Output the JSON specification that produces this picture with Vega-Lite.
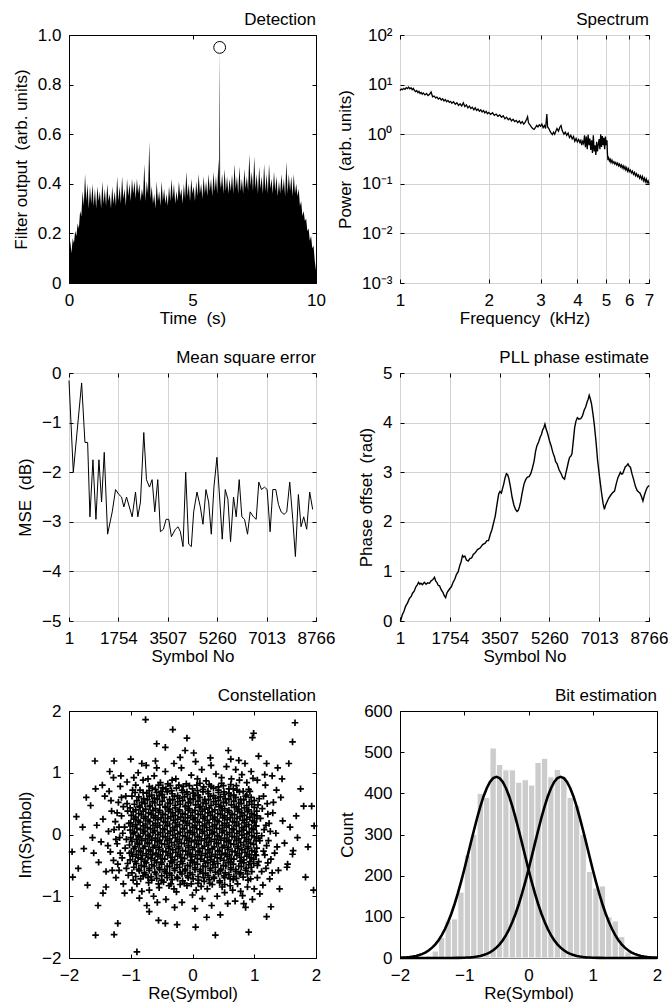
{
"$schema": "https://vega.github.io/schema/vega-lite/v6.json",
"background": "white",
"padding": {"left": 11, "top": 10, "right": 0, "bottom": 0},
"config": {
  "font": "Liberation Sans",
  "view": {"stroke": "black", "strokeWidth": 1},
  "axis": {"domain": false, "grid": false, "gridColor": "#d3d3d3", "gridWidth": 1, "gridOpacity": 1, "ticks": true, "tickColor": "black", "tickSize": -4, "tickWidth": 1, "labelFont": "Liberation Sans", "labelFontSize": 17, "labelColor": "black", "labelFlush": false, "labelOverlap": false, "titleFont": "Liberation Sans", "titleFontSize": 17, "titleFontWeight": "normal", "titleColor": "black"},
  "axisX": {"labelPadding": 13, "titleY": 27, "titleBaseline": "top"},
  "axisY": {"labelPadding": 12, "titlePadding": 7},
  "title": {"anchor": "end", "frame": "group", "fontSize": 17, "fontWeight": "normal", "font": "Liberation Sans", "color": "black", "offset": -3, "baseline": "alphabetic"}
},
"datasets": {
"det": [
{"t":0.00,"v":0.10},{"t":0.05,"v":0.17},{"t":0.10,"v":0.12},{"t":0.15,"v":0.18},{"t":0.20,"v":0.16},{"t":0.25,"v":0.21},{"t":0.30,"v":0.19},{"t":0.35,"v":0.24},{"t":0.40,"v":0.22},{"t":0.45,"v":0.29},{"t":0.50,"v":0.27},{"t":0.55,"v":0.37},{"t":0.60,"v":0.31},{"t":0.65,"v":0.44},{"t":0.70,"v":0.33},{"t":0.75,"v":0.40},{"t":0.80,"v":0.30},{"t":0.85,"v":0.39},{"t":0.90,"v":0.32},{"t":0.95,"v":0.40},
{"t":1.00,"v":0.31},{"t":1.05,"v":0.38},{"t":1.10,"v":0.30},{"t":1.15,"v":0.39},{"t":1.20,"v":0.33},{"t":1.25,"v":0.37},{"t":1.30,"v":0.30},{"t":1.35,"v":0.41},{"t":1.40,"v":0.32},{"t":1.45,"v":0.38},{"t":1.50,"v":0.31},{"t":1.55,"v":0.40},{"t":1.60,"v":0.33},{"t":1.65,"v":0.36},{"t":1.70,"v":0.30},{"t":1.75,"v":0.39},{"t":1.80,"v":0.32},{"t":1.85,"v":0.37},{"t":1.90,"v":0.31},{"t":1.95,"v":0.43},
{"t":2.00,"v":0.33},{"t":2.05,"v":0.39},{"t":2.10,"v":0.32},{"t":2.15,"v":0.43},{"t":2.20,"v":0.34},{"t":2.25,"v":0.38},{"t":2.30,"v":0.31},{"t":2.35,"v":0.42},{"t":2.40,"v":0.35},{"t":2.45,"v":0.40},{"t":2.50,"v":0.33},{"t":2.55,"v":0.42},{"t":2.60,"v":0.36},{"t":2.65,"v":0.41},{"t":2.70,"v":0.34},{"t":2.75,"v":0.42},{"t":2.80,"v":0.36},{"t":2.85,"v":0.40},{"t":2.90,"v":0.33},{"t":2.95,"v":0.38},
{"t":3.00,"v":0.35},{"t":3.05,"v":0.48},{"t":3.10,"v":0.33},{"t":3.15,"v":0.41},{"t":3.20,"v":0.36},{"t":3.25,"v":0.57},{"t":3.30,"v":0.34},{"t":3.35,"v":0.39},{"t":3.40,"v":0.32},{"t":3.45,"v":0.36},{"t":3.50,"v":0.30},{"t":3.55,"v":0.41},{"t":3.60,"v":0.33},{"t":3.65,"v":0.37},{"t":3.70,"v":0.31},{"t":3.75,"v":0.41},{"t":3.80,"v":0.33},{"t":3.85,"v":0.38},{"t":3.90,"v":0.32},{"t":3.95,"v":0.36},
{"t":4.00,"v":0.31},{"t":4.05,"v":0.39},{"t":4.10,"v":0.33},{"t":4.15,"v":0.42},{"t":4.20,"v":0.34},{"t":4.25,"v":0.40},{"t":4.30,"v":0.32},{"t":4.35,"v":0.37},{"t":4.40,"v":0.33},{"t":4.45,"v":0.41},{"t":4.50,"v":0.35},{"t":4.55,"v":0.38},{"t":4.60,"v":0.32},{"t":4.65,"v":0.40},{"t":4.70,"v":0.34},{"t":4.75,"v":0.45},{"t":4.80,"v":0.35},{"t":4.85,"v":0.40},{"t":4.90,"v":0.33},{"t":4.95,"v":0.42},
{"t":5.00,"v":0.36},{"t":5.05,"v":0.39},{"t":5.10,"v":0.33},{"t":5.15,"v":0.41},{"t":5.20,"v":0.35},{"t":5.25,"v":0.44},{"t":5.30,"v":0.36},{"t":5.35,"v":0.40},{"t":5.40,"v":0.34},{"t":5.45,"v":0.43},{"t":5.50,"v":0.36},{"t":5.55,"v":0.41},{"t":5.60,"v":0.35},{"t":5.65,"v":0.44},{"t":5.70,"v":0.37},{"t":5.75,"v":0.42},{"t":5.80,"v":0.35},{"t":5.85,"v":0.45},{"t":5.90,"v":0.37},{"t":5.95,"v":0.43},
{"t":6.00,"v":0.36},{"t":6.05,"v":0.50},{"t":6.08,"v":0.40},{"t":6.10,"v":0.95},{"t":6.12,"v":0.41},{"t":6.15,"v":0.38},{"t":6.20,"v":0.44},{"t":6.25,"v":0.36},{"t":6.30,"v":0.46},{"t":6.35,"v":0.37},{"t":6.40,"v":0.43},{"t":6.45,"v":0.36},{"t":6.50,"v":0.42},{"t":6.55,"v":0.37},{"t":6.60,"v":0.44},{"t":6.65,"v":0.36},{"t":6.70,"v":0.48},{"t":6.75,"v":0.38},{"t":6.80,"v":0.43},{"t":6.85,"v":0.36},{"t":6.90,"v":0.47},{"t":6.95,"v":0.37},
{"t":7.00,"v":0.42},{"t":7.05,"v":0.36},{"t":7.10,"v":0.46},{"t":7.15,"v":0.38},{"t":7.20,"v":0.43},{"t":7.25,"v":0.37},{"t":7.30,"v":0.52},{"t":7.35,"v":0.39},{"t":7.40,"v":0.45},{"t":7.45,"v":0.37},{"t":7.50,"v":0.51},{"t":7.55,"v":0.38},{"t":7.60,"v":0.44},{"t":7.65,"v":0.36},{"t":7.70,"v":0.47},{"t":7.75,"v":0.38},{"t":7.80,"v":0.43},{"t":7.85,"v":0.36},{"t":7.90,"v":0.48},{"t":7.95,"v":0.37},
{"t":8.00,"v":0.44},{"t":8.05,"v":0.36},{"t":8.10,"v":0.48},{"t":8.15,"v":0.38},{"t":8.20,"v":0.42},{"t":8.25,"v":0.36},{"t":8.30,"v":0.45},{"t":8.35,"v":0.37},{"t":8.40,"v":0.43},{"t":8.45,"v":0.35},{"t":8.50,"v":0.41},{"t":8.55,"v":0.36},{"t":8.60,"v":0.44},{"t":8.65,"v":0.37},{"t":8.70,"v":0.42},{"t":8.75,"v":0.35},{"t":8.80,"v":0.49},{"t":8.85,"v":0.36},{"t":8.90,"v":0.44},{"t":8.95,"v":0.37},
{"t":9.00,"v":0.43},{"t":9.05,"v":0.35},{"t":9.10,"v":0.44},{"t":9.15,"v":0.36},{"t":9.20,"v":0.40},{"t":9.25,"v":0.35},{"t":9.30,"v":0.38},{"t":9.35,"v":0.31},{"t":9.40,"v":0.33},{"t":9.45,"v":0.27},{"t":9.50,"v":0.29},{"t":9.55,"v":0.25},{"t":9.60,"v":0.26},{"t":9.65,"v":0.21},{"t":9.70,"v":0.22},{"t":9.75,"v":0.17},{"t":9.80,"v":0.19},{"t":9.85,"v":0.14},{"t":9.90,"v":0.15},{"t":9.95,"v":0.09},{"t":10.00,"v":0.05}
],
"spec": [
{"f":1.000,"p":7.6},{"f":1.010,"p":8.1},{"f":1.020,"p":7.9},{"f":1.030,"p":8.4},{"f":1.040,"p":8.0},{"f":1.050,"p":8.7},{"f":1.060,"p":8.3},{"f":1.070,"p":8.9},{"f":1.080,"p":8.2},{"f":1.090,"p":8.6},{"f":1.100,"p":7.9},{"f":1.110,"p":8.4},{"f":1.120,"p":7.6},{"f":1.130,"p":7.2},{"f":1.140,"p":7.6},{"f":1.150,"p":6.9},{"f":1.160,"p":7.3},{"f":1.170,"p":6.6},{"f":1.180,"p":6.9},{"f":1.190,"p":6.4},{"f":1.200,"p":6.8},{"f":1.215,"p":6.2},{"f":1.230,"p":6.6},{"f":1.245,"p":6.0},{"f":1.260,"p":6.4},{"f":1.275,"p":7.1},{"f":1.290,"p":5.7},{"f":1.305,"p":5.9},{"f":1.320,"p":5.4},{"f":1.335,"p":5.6},{"f":1.350,"p":5.1},{"f":1.365,"p":5.4},{"f":1.380,"p":4.9},{"f":1.395,"p":5.2},{"f":1.410,"p":4.7},{"f":1.425,"p":5.0},{"f":1.440,"p":4.5},{"f":1.455,"p":4.8},{"f":1.470,"p":4.4},{"f":1.485,"p":4.6},{"f":1.500,"p":4.2},{"f":1.520,"p":4.5},{"f":1.540,"p":4.0},{"f":1.560,"p":4.3},{"f":1.580,"p":3.8},{"f":1.600,"p":4.1},{"f":1.620,"p":3.7},{"f":1.640,"p":4.3},{"f":1.660,"p":3.6},{"f":1.680,"p":3.9},{"f":1.700,"p":3.4},{"f":1.720,"p":3.7},{"f":1.740,"p":3.3},{"f":1.760,"p":3.5},{"f":1.780,"p":3.1},{"f":1.800,"p":3.4},{"f":1.820,"p":3.0},{"f":1.840,"p":3.2},{"f":1.860,"p":2.9},{"f":1.880,"p":3.1},{"f":1.900,"p":2.8},{"f":1.920,"p":3.0},{"f":1.940,"p":2.7},{"f":1.960,"p":2.9},{"f":1.980,"p":2.6},{"f":2.000,"p":2.75},{"f":2.030,"p":2.5},{"f":2.060,"p":2.7},{"f":2.090,"p":2.4},{"f":2.120,"p":2.55},{"f":2.150,"p":2.3},{"f":2.180,"p":2.45},{"f":2.210,"p":2.2},{"f":2.240,"p":2.35},{"f":2.270,"p":2.05},{"f":2.300,"p":2.2},{"f":2.330,"p":1.95},{"f":2.360,"p":2.1},{"f":2.390,"p":1.85},{"f":2.420,"p":2.0},{"f":2.450,"p":1.8},{"f":2.480,"p":1.9},{"f":2.510,"p":1.7},{"f":2.540,"p":1.85},{"f":2.570,"p":1.65},{"f":2.600,"p":1.8},{"f":2.630,"p":1.6},{"f":2.660,"p":1.75},{"f":2.690,"p":2.0},{"f":2.710,"p":2.25},{"f":2.730,"p":1.7},{"f":2.760,"p":1.55},{"f":2.790,"p":1.4},{"f":2.820,"p":1.3},{"f":2.850,"p":1.25},{"f":2.880,"p":1.35},{"f":2.910,"p":1.5},{"f":2.940,"p":1.4},{"f":2.970,"p":1.55},{"f":3.000,"p":1.45},{"f":3.030,"p":1.6},{"f":3.060,"p":1.35},{"f":3.090,"p":1.5},{"f":3.120,"p":1.3},{"f":3.150,"p":2.55},{"f":3.170,"p":1.4},{"f":3.200,"p":1.3},{"f":3.230,"p":1.15},{"f":3.260,"p":1.05},{"f":3.290,"p":0.98},{"f":3.320,"p":1.1},{"f":3.350,"p":1.0},{"f":3.380,"p":1.15},{"f":3.410,"p":1.3},{"f":3.450,"p":1.15},{"f":3.490,"p":1.4},{"f":3.520,"p":1.5},{"f":3.550,"p":1.2},{"f":3.600,"p":1.0},{"f":3.640,"p":1.1},{"f":3.680,"p":0.95},{"f":3.720,"p":1.05},{"f":3.760,"p":0.85},{"f":3.800,"p":0.95},{"f":3.840,"p":0.8},{"f":3.880,"p":0.9},{"f":3.920,"p":0.72},{"f":3.960,"p":0.82},{"f":4.000,"p":0.7},{"f":4.040,"p":0.78},{"f":4.080,"p":0.68},{"f":4.110,"p":0.75},{"f":4.140,"p":0.6},{"f":4.170,"p":0.72},{"f":4.200,"p":0.65},{"f":4.230,"p":0.95},{"f":4.260,"p":0.55},{"f":4.290,"p":0.9},{"f":4.320,"p":0.5},{"f":4.350,"p":0.98},{"f":4.380,"p":0.6},{"f":4.410,"p":0.82},{"f":4.440,"p":0.48},{"f":4.470,"p":0.75},{"f":4.500,"p":0.42},{"f":4.530,"p":0.95},{"f":4.560,"p":0.45},{"f":4.590,"p":0.6},{"f":4.620,"p":0.38},{"f":4.650,"p":0.7},{"f":4.680,"p":0.45},{"f":4.710,"p":0.62},{"f":4.740,"p":0.8},{"f":4.770,"p":0.5},{"f":4.800,"p":1.0},{"f":4.830,"p":0.55},{"f":4.860,"p":0.92},{"f":4.890,"p":0.6},{"f":4.920,"p":0.85},{"f":4.950,"p":0.5},{"f":4.980,"p":0.9},{"f":5.010,"p":0.6},{"f":5.040,"p":0.75},{"f":5.060,"p":0.4},{"f":5.080,"p":0.3},{"f":5.110,"p":0.33},{"f":5.140,"p":0.29},{"f":5.170,"p":0.31},{"f":5.200,"p":0.27},{"f":5.240,"p":0.3},{"f":5.280,"p":0.26},{"f":5.320,"p":0.28},{"f":5.360,"p":0.25},{"f":5.400,"p":0.27},{"f":5.440,"p":0.24},{"f":5.480,"p":0.26},{"f":5.520,"p":0.23},{"f":5.560,"p":0.25},{"f":5.600,"p":0.22},{"f":5.640,"p":0.24},{"f":5.680,"p":0.21},{"f":5.720,"p":0.23},{"f":5.760,"p":0.2},{"f":5.800,"p":0.22},{"f":5.840,"p":0.19},{"f":5.880,"p":0.21},{"f":5.920,"p":0.18},{"f":5.960,"p":0.2},{"f":6.000,"p":0.175},{"f":6.050,"p":0.19},{"f":6.100,"p":0.165},{"f":6.150,"p":0.18},{"f":6.200,"p":0.155},{"f":6.250,"p":0.17},{"f":6.300,"p":0.145},{"f":6.350,"p":0.16},{"f":6.400,"p":0.14},{"f":6.450,"p":0.15},{"f":6.500,"p":0.13},{"f":6.550,"p":0.145},{"f":6.600,"p":0.125},{"f":6.650,"p":0.14},{"f":6.700,"p":0.115},{"f":6.750,"p":0.13},{"f":6.800,"p":0.11},{"f":6.850,"p":0.125},{"f":6.900,"p":0.105},{"f":6.950,"p":0.115},{"f":7.000,"p":0.1}
],
"mse": [
{"s":1,"m":-0.15},{"s":154,"m":-2.0},{"s":449,"m":-0.2},{"s":567,"m":-1.4},{"s":662,"m":-1.4},{"s":744,"m":-2.9},{"s":850,"m":-1.75},{"s":957,"m":-2.95},{"s":1063,"m":-1.75},{"s":1157,"m":-2.6},{"s":1252,"m":-1.6},{"s":1370,"m":-3.25},{"s":1535,"m":-2.8},{"s":1653,"m":-2.35},{"s":1771,"m":-2.45},{"s":1865,"m":-2.5},{"s":1948,"m":-2.7},{"s":2042,"m":-2.5},{"s":2243,"m":-2.9},{"s":2361,"m":-2.4},{"s":2443,"m":-2.9},{"s":2537,"m":-2.6},{"s":2655,"m":-1.2},{"s":2750,"m":-2.15},{"s":2856,"m":-2.3},{"s":2950,"m":-2.15},{"s":3045,"m":-2.8},{"s":3151,"m":-2.15},{"s":3245,"m":-3.2},{"s":3351,"m":-3.15},{"s":3446,"m":-2.95},{"s":3540,"m":-2.95},{"s":3635,"m":-3.3},{"s":3776,"m":-3.15},{"s":3870,"m":-3.1},{"s":3953,"m":-3.2},{"s":4047,"m":-3.5},{"s":4142,"m":-2.0},{"s":4248,"m":-3.45},{"s":4342,"m":-3.5},{"s":4425,"m":-2.8},{"s":4543,"m":-2.4},{"s":4661,"m":-2.7},{"s":4755,"m":-3.05},{"s":4861,"m":-2.35},{"s":4956,"m":-2.6},{"s":5050,"m":-3.25},{"s":5144,"m":-2.3},{"s":5251,"m":-1.7},{"s":5333,"m":-2.4},{"s":5439,"m":-3.35},{"s":5546,"m":-2.35},{"s":5640,"m":-2.55},{"s":5734,"m":-3.4},{"s":5840,"m":-2.5},{"s":5935,"m":-2.9},{"s":6041,"m":-2.15},{"s":6135,"m":-2.9},{"s":6230,"m":-2.95},{"s":6336,"m":-3.25},{"s":6430,"m":-2.8},{"s":6548,"m":-2.9},{"s":6643,"m":-2.95},{"s":6737,"m":-2.2},{"s":6832,"m":-2.35},{"s":6938,"m":-2.3},{"s":7032,"m":-2.35},{"s":7138,"m":-3.2},{"s":7233,"m":-2.35},{"s":7339,"m":-2.35},{"s":7433,"m":-2.65},{"s":7528,"m":-2.8},{"s":7634,"m":-2.85},{"s":7728,"m":-2.8},{"s":7834,"m":-2.2},{"s":7941,"m":-2.95},{"s":8035,"m":-3.7},{"s":8141,"m":-2.45},{"s":8235,"m":-3.1},{"s":8330,"m":-2.9},{"s":8436,"m":-3.15},{"s":8542,"m":-2.4},{"s":8648,"m":-2.75}
],
"pll": [
{"s":1,"ph":0.0},{"s":25,"ph":0.01},{"s":80,"ph":0.12},{"s":144,"ph":0.2},{"s":200,"ph":0.3},{"s":263,"ph":0.36},{"s":330,"ph":0.45},{"s":400,"ph":0.5},{"s":441,"ph":0.56},{"s":500,"ph":0.6},{"s":560,"ph":0.69},{"s":610,"ph":0.73},{"s":655,"ph":0.78},{"s":700,"ph":0.74},{"s":738,"ph":0.76},{"s":790,"ph":0.73},{"s":857,"ph":0.78},{"s":920,"ph":0.74},{"s":976,"ph":0.77},{"s":1040,"ph":0.76},{"s":1095,"ph":0.81},{"s":1150,"ph":0.83},{"s":1214,"ph":0.88},{"s":1255,"ph":0.81},{"s":1297,"ph":0.78},{"s":1345,"ph":0.72},{"s":1392,"ph":0.71},{"s":1450,"ph":0.63},{"s":1511,"ph":0.58},{"s":1560,"ph":0.51},{"s":1607,"ph":0.47},{"s":1650,"ph":0.56},{"s":1690,"ph":0.6},{"s":1750,"ph":0.65},{"s":1809,"ph":0.69},{"s":1870,"ph":0.78},{"s":1928,"ph":0.84},{"s":1990,"ph":0.94},{"s":2047,"ph":0.99},{"s":2106,"ph":1.12},{"s":2150,"ph":1.19},{"s":2201,"ph":1.32},{"s":2240,"ph":1.29},{"s":2284,"ph":1.31},{"s":2340,"ph":1.23},{"s":2403,"ph":1.21},{"s":2460,"ph":1.26},{"s":2522,"ph":1.27},{"s":2580,"ph":1.34},{"s":2641,"ph":1.37},{"s":2730,"ph":1.44},{"s":2820,"ph":1.47},{"s":2910,"ph":1.54},{"s":2998,"ph":1.57},{"s":3060,"ph":1.62},{"s":3117,"ph":1.62},{"s":3180,"ph":1.75},{"s":3236,"ph":1.84},{"s":3300,"ph":1.99},{"s":3355,"ph":2.12},{"s":3410,"ph":2.33},{"s":3474,"ph":2.56},{"s":3520,"ph":2.61},{"s":3569,"ph":2.58},{"s":3610,"ph":2.67},{"s":3652,"ph":2.76},{"s":3700,"ph":2.89},{"s":3747,"ph":2.97},{"s":3790,"ph":2.95},{"s":3830,"ph":2.88},{"s":3890,"ph":2.7},{"s":3949,"ph":2.49},{"s":4010,"ph":2.34},{"s":4068,"ph":2.25},{"s":4120,"ph":2.21},{"s":4164,"ph":2.23},{"s":4205,"ph":2.3},{"s":4247,"ph":2.4},{"s":4300,"ph":2.58},{"s":4366,"ph":2.76},{"s":4425,"ph":2.85},{"s":4485,"ph":2.9},{"s":4545,"ph":2.91},{"s":4604,"ph":2.97},{"s":4660,"ph":3.08},{"s":4723,"ph":3.23},{"s":4770,"ph":3.41},{"s":4818,"ph":3.53},{"s":4880,"ph":3.61},{"s":4937,"ph":3.71},{"s":4980,"ph":3.76},{"s":5020,"ph":3.85},{"s":5060,"ph":3.89},{"s":5103,"ph":3.97},{"s":5150,"ph":3.86},{"s":5198,"ph":3.78},{"s":5260,"ph":3.64},{"s":5317,"ph":3.54},{"s":5380,"ph":3.4},{"s":5436,"ph":3.31},{"s":5480,"ph":3.21},{"s":5531,"ph":3.17},{"s":5600,"ph":3.05},{"s":5674,"ph":2.97},{"s":5730,"ph":2.89},{"s":5793,"ph":2.86},{"s":5840,"ph":2.98},{"s":5888,"ph":3.1},{"s":5930,"ph":3.21},{"s":5971,"ph":3.3},{"s":6010,"ph":3.32},{"s":6054,"ph":3.37},{"s":6100,"ph":3.62},{"s":6149,"ph":3.9},{"s":6195,"ph":4.03},{"s":6244,"ph":4.1},{"s":6300,"ph":4.07},{"s":6363,"ph":4.08},{"s":6420,"ph":4.13},{"s":6483,"ph":4.25},{"s":6540,"ph":4.32},{"s":6590,"ph":4.42},{"s":6625,"ph":4.47},{"s":6661,"ph":4.55},{"s":6700,"ph":4.48},{"s":6744,"ph":4.37},{"s":6790,"ph":4.19},{"s":6839,"ph":3.97},{"s":6900,"ph":3.62},{"s":6958,"ph":3.23},{"s":7030,"ph":2.88},{"s":7101,"ph":2.56},{"s":7150,"ph":2.37},{"s":7196,"ph":2.25},{"s":7240,"ph":2.34},{"s":7279,"ph":2.39},{"s":7340,"ph":2.47},{"s":7398,"ph":2.52},{"s":7475,"ph":2.58},{"s":7553,"ph":2.62},{"s":7610,"ph":2.76},{"s":7672,"ph":2.89},{"s":7715,"ph":2.94},{"s":7755,"ph":3.0},{"s":7800,"ph":2.96},{"s":7838,"ph":2.97},{"s":7885,"ph":3.04},{"s":7933,"ph":3.11},{"s":7980,"ph":3.13},{"s":8028,"ph":3.17},{"s":8070,"ph":3.12},{"s":8112,"ph":3.1},{"s":8170,"ph":2.96},{"s":8231,"ph":2.84},{"s":8290,"ph":2.71},{"s":8350,"ph":2.63},{"s":8400,"ph":2.6},{"s":8445,"ph":2.58},{"s":8500,"ph":2.51},{"s":8552,"ph":2.42},{"s":8600,"ph":2.53},{"s":8647,"ph":2.61},{"s":8700,"ph":2.69},{"s":8766,"ph":2.73}
],
"con": [
{"re":-0.58,"im":-0.71},{"re":-0.50,"im":-0.74},{"re":-0.41,"im":-0.70},{"re":-0.33,"im":-0.73},{"re":-0.24,"im":-0.71},{"re":-0.16,"im":-0.75},{"re":-0.07,"im":-0.70},{"re":0.01,"im":-0.72},{"re":0.10,"im":-0.74},{"re":0.18,"im":-0.70},{"re":0.27,"im":-0.73},{"re":0.35,"im":-0.71},{"re":0.44,"im":-0.75},{"re":0.52,"im":-0.70},{"re":0.61,"im":-0.72},
{"re":-0.76,"im":-0.65},{"re":-0.67,"im":-0.68},{"re":-0.59,"im":-0.64},{"re":-0.50,"im":-0.67},{"re":-0.42,"im":-0.63},{"re":-0.34,"im":-0.66},{"re":-0.25,"im":-0.69},{"re":-0.17,"im":-0.64},{"re":-0.08,"im":-0.67},{"re":0.00,"im":-0.65},{"re":0.09,"im":-0.68},{"re":0.17,"im":-0.63},{"re":0.25,"im":-0.66},{"re":0.34,"im":-0.69},{"re":0.42,"im":-0.64},{"re":0.51,"im":-0.67},{"re":0.59,"im":-0.65},{"re":0.67,"im":-0.68},{"re":0.76,"im":-0.64},
{"re":-0.86,"im":-0.59},{"re":-0.78,"im":-0.62},{"re":-0.70,"im":-0.58},{"re":-0.61,"im":-0.61},{"re":-0.53,"im":-0.57},{"re":-0.45,"im":-0.60},{"re":-0.37,"im":-0.63},{"re":-0.29,"im":-0.58},{"re":-0.20,"im":-0.61},{"re":-0.12,"im":-0.59},{"re":-0.04,"im":-0.62},{"re":0.04,"im":-0.57},{"re":0.12,"im":-0.60},{"re":0.21,"im":-0.63},{"re":0.29,"im":-0.58},{"re":0.37,"im":-0.61},{"re":0.45,"im":-0.59},{"re":0.53,"im":-0.62},{"re":0.62,"im":-0.57},{"re":0.70,"im":-0.60},{"re":0.78,"im":-0.62},{"re":0.86,"im":-0.58},
{"re":-0.95,"im":-0.53},{"re":-0.87,"im":-0.56},{"re":-0.78,"im":-0.52},{"re":-0.70,"im":-0.55},{"re":-0.62,"im":-0.51},{"re":-0.54,"im":-0.54},{"re":-0.45,"im":-0.57},{"re":-0.37,"im":-0.52},{"re":-0.29,"im":-0.55},{"re":-0.21,"im":-0.53},{"re":-0.12,"im":-0.56},{"re":-0.04,"im":-0.51},{"re":0.04,"im":-0.54},{"re":0.13,"im":-0.57},{"re":0.21,"im":-0.52},{"re":0.29,"im":-0.55},{"re":0.37,"im":-0.53},{"re":0.46,"im":-0.56},{"re":0.54,"im":-0.51},{"re":0.62,"im":-0.54},{"re":0.70,"im":-0.57},{"re":0.79,"im":-0.52},{"re":0.87,"im":-0.55},{"re":0.95,"im":-0.53},
{"re":-0.91,"im":-0.47},{"re":-0.83,"im":-0.50},{"re":-0.75,"im":-0.46},{"re":-0.66,"im":-0.49},{"re":-0.58,"im":-0.45},{"re":-0.50,"im":-0.48},{"re":-0.41,"im":-0.51},{"re":-0.33,"im":-0.46},{"re":-0.25,"im":-0.49},{"re":-0.16,"im":-0.47},{"re":-0.08,"im":-0.50},{"re":0.00,"im":-0.45},{"re":0.08,"im":-0.48},{"re":0.17,"im":-0.51},{"re":0.25,"im":-0.46},{"re":0.33,"im":-0.49},{"re":0.41,"im":-0.47},{"re":0.50,"im":-0.50},{"re":0.58,"im":-0.45},{"re":0.66,"im":-0.48},{"re":0.75,"im":-0.51},{"re":0.83,"im":-0.46},{"re":0.91,"im":-0.49},{"re":0.99,"im":-0.47},
{"re":-1.01,"im":-0.41},{"re":-0.93,"im":-0.44},{"re":-0.83,"im":-0.40},{"re":-0.77,"im":-0.43},{"re":-0.67,"im":-0.39},{"re":-0.61,"im":-0.42},{"re":-0.51,"im":-0.45},{"re":-0.45,"im":-0.40},{"re":-0.35,"im":-0.43},{"re":-0.29,"im":-0.41},{"re":-0.19,"im":-0.44},{"re":-0.13,"im":-0.39},{"re":-0.03,"im":-0.42},{"re":0.03,"im":-0.45},{"re":0.13,"im":-0.40},{"re":0.19,"im":-0.43},{"re":0.29,"im":-0.41},{"re":0.35,"im":-0.44},{"re":0.45,"im":-0.39},{"re":0.51,"im":-0.42},{"re":0.61,"im":-0.45},{"re":0.67,"im":-0.40},{"re":0.77,"im":-0.43},{"re":0.83,"im":-0.41},{"re":0.93,"im":-0.44},{"re":0.99,"im":-0.40},
{"re":-0.97,"im":-0.35},{"re":-0.88,"im":-0.38},{"re":-0.81,"im":-0.34},{"re":-0.72,"im":-0.37},{"re":-0.65,"im":-0.33},{"re":-0.56,"im":-0.36},{"re":-0.49,"im":-0.39},{"re":-0.40,"im":-0.34},{"re":-0.33,"im":-0.37},{"re":-0.24,"im":-0.35},{"re":-0.17,"im":-0.38},{"re":-0.08,"im":-0.33},{"re":-0.01,"im":-0.36},{"re":0.08,"im":-0.39},{"re":0.15,"im":-0.34},{"re":0.24,"im":-0.37},{"re":0.31,"im":-0.35},{"re":0.40,"im":-0.38},{"re":0.47,"im":-0.33},{"re":0.56,"im":-0.36},{"re":0.63,"im":-0.39},{"re":0.72,"im":-0.34},{"re":0.79,"im":-0.37},{"re":0.88,"im":-0.35},{"re":0.95,"im":-0.38},{"re":1.03,"im":-0.34},
{"re":-0.99,"im":-0.29},{"re":-0.91,"im":-0.32},{"re":-0.84,"im":-0.28},{"re":-0.75,"im":-0.31},{"re":-0.68,"im":-0.27},{"re":-0.59,"im":-0.30},{"re":-0.52,"im":-0.33},{"re":-0.43,"im":-0.28},{"re":-0.36,"im":-0.31},{"re":-0.27,"im":-0.29},{"re":-0.20,"im":-0.32},{"re":-0.11,"im":-0.27},{"re":-0.04,"im":-0.30},{"re":0.05,"im":-0.33},{"re":0.12,"im":-0.28},{"re":0.21,"im":-0.31},{"re":0.28,"im":-0.29},{"re":0.37,"im":-0.32},{"re":0.44,"im":-0.27},{"re":0.53,"im":-0.30},{"re":0.60,"im":-0.33},{"re":0.69,"im":-0.28},{"re":0.76,"im":-0.31},{"re":0.85,"im":-0.29},{"re":0.92,"im":-0.32},{"re":1.01,"im":-0.28},
{"re":-0.95,"im":-0.23},{"re":-0.87,"im":-0.26},{"re":-0.80,"im":-0.22},{"re":-0.71,"im":-0.25},{"re":-0.64,"im":-0.21},{"re":-0.55,"im":-0.24},{"re":-0.48,"im":-0.27},{"re":-0.39,"im":-0.22},{"re":-0.32,"im":-0.25},{"re":-0.23,"im":-0.23},{"re":-0.16,"im":-0.26},{"re":-0.07,"im":-0.21},{"re":0.00,"im":-0.24},{"re":0.09,"im":-0.27},{"re":0.16,"im":-0.22},{"re":0.25,"im":-0.25},{"re":0.32,"im":-0.23},{"re":0.41,"im":-0.26},{"re":0.48,"im":-0.21},{"re":0.57,"im":-0.24},{"re":0.64,"im":-0.27},{"re":0.73,"im":-0.22},{"re":0.80,"im":-0.25},{"re":0.89,"im":-0.23},{"re":0.96,"im":-0.26},{"re":1.04,"im":-0.22},
{"re":-1.02,"im":-0.17},{"re":-0.93,"im":-0.20},{"re":-0.86,"im":-0.16},{"re":-0.77,"im":-0.19},{"re":-0.70,"im":-0.15},{"re":-0.61,"im":-0.18},{"re":-0.54,"im":-0.21},{"re":-0.45,"im":-0.16},{"re":-0.38,"im":-0.19},{"re":-0.29,"im":-0.17},{"re":-0.22,"im":-0.20},{"re":-0.13,"im":-0.15},{"re":-0.06,"im":-0.18},{"re":0.03,"im":-0.21},{"re":0.10,"im":-0.16},{"re":0.19,"im":-0.19},{"re":0.26,"im":-0.17},{"re":0.35,"im":-0.20},{"re":0.42,"im":-0.15},{"re":0.51,"im":-0.18},{"re":0.58,"im":-0.21},{"re":0.67,"im":-0.16},{"re":0.74,"im":-0.19},{"re":0.83,"im":-0.17},{"re":0.90,"im":-0.20},{"re":0.99,"im":-0.16},
{"re":-0.98,"im":-0.11},{"re":-0.89,"im":-0.14},{"re":-0.82,"im":-0.10},{"re":-0.73,"im":-0.13},{"re":-0.66,"im":-0.09},{"re":-0.57,"im":-0.12},{"re":-0.50,"im":-0.15},{"re":-0.41,"im":-0.10},{"re":-0.34,"im":-0.13},{"re":-0.25,"im":-0.11},{"re":-0.18,"im":-0.14},{"re":-0.09,"im":-0.09},{"re":-0.02,"im":-0.12},{"re":0.07,"im":-0.15},{"re":0.14,"im":-0.10},{"re":0.23,"im":-0.13},{"re":0.30,"im":-0.11},{"re":0.39,"im":-0.14},{"re":0.46,"im":-0.09},{"re":0.55,"im":-0.12},{"re":0.62,"im":-0.15},{"re":0.71,"im":-0.10},{"re":0.78,"im":-0.13},{"re":0.87,"im":-0.11},{"re":0.94,"im":-0.14},{"re":1.03,"im":-0.10},
{"re":-1.00,"im":-0.05},{"re":-0.91,"im":-0.08},{"re":-0.85,"im":-0.04},{"re":-0.76,"im":-0.07},{"re":-0.69,"im":-0.03},{"re":-0.60,"im":-0.06},{"re":-0.53,"im":-0.09},{"re":-0.44,"im":-0.04},{"re":-0.37,"im":-0.07},{"re":-0.28,"im":-0.05},{"re":-0.21,"im":-0.08},{"re":-0.12,"im":-0.03},{"re":-0.05,"im":-0.06},{"re":0.04,"im":-0.09},{"re":0.11,"im":-0.04},{"re":0.20,"im":-0.07},{"re":0.27,"im":-0.05},{"re":0.36,"im":-0.08},{"re":0.43,"im":-0.03},{"re":0.52,"im":-0.06},{"re":0.59,"im":-0.09},{"re":0.68,"im":-0.04},{"re":0.75,"im":-0.07},{"re":0.84,"im":-0.05},{"re":0.91,"im":-0.08},{"re":1.00,"im":-0.04},
{"re":-0.96,"im":0.01},{"re":-0.88,"im":-0.02},{"re":-0.80,"im":0.02},{"re":-0.72,"im":-0.01},{"re":-0.64,"im":0.03},{"re":-0.56,"im":0.00},{"re":-0.48,"im":-0.03},{"re":-0.40,"im":0.02},{"re":-0.32,"im":-0.01},{"re":-0.24,"im":0.01},{"re":-0.16,"im":-0.02},{"re":-0.08,"im":0.03},{"re":0.00,"im":0.00},{"re":0.08,"im":-0.03},{"re":0.16,"im":0.02},{"re":0.24,"im":-0.01},{"re":0.32,"im":0.01},{"re":0.40,"im":-0.02},{"re":0.48,"im":0.03},{"re":0.56,"im":0.00},{"re":0.64,"im":-0.03},{"re":0.72,"im":0.02},{"re":0.80,"im":-0.01},{"re":0.88,"im":0.01},{"re":0.96,"im":-0.02},{"re":1.04,"im":0.02},
{"re":-1.01,"im":0.07},{"re":-0.94,"im":0.04},{"re":-0.84,"im":0.08},{"re":-0.77,"im":0.05},{"re":-0.68,"im":0.09},{"re":-0.61,"im":0.06},{"re":-0.52,"im":0.03},{"re":-0.45,"im":0.08},{"re":-0.36,"im":0.05},{"re":-0.29,"im":0.07},{"re":-0.20,"im":0.04},{"re":-0.13,"im":0.09},{"re":-0.04,"im":0.06},{"re":0.03,"im":0.03},{"re":0.12,"im":0.08},{"re":0.19,"im":0.05},{"re":0.28,"im":0.07},{"re":0.35,"im":0.04},{"re":0.44,"im":0.09},{"re":0.51,"im":0.06},{"re":0.60,"im":0.03},{"re":0.67,"im":0.08},{"re":0.76,"im":0.05},{"re":0.83,"im":0.07},{"re":0.92,"im":0.04},{"re":0.99,"im":0.08},
{"re":-0.97,"im":0.13},{"re":-0.90,"im":0.10},{"re":-0.80,"im":0.14},{"re":-0.73,"im":0.11},{"re":-0.64,"im":0.15},{"re":-0.57,"im":0.12},{"re":-0.48,"im":0.09},{"re":-0.41,"im":0.14},{"re":-0.32,"im":0.11},{"re":-0.25,"im":0.13},{"re":-0.16,"im":0.10},{"re":-0.09,"im":0.15},{"re":0.00,"im":0.12},{"re":0.07,"im":0.09},{"re":0.16,"im":0.14},{"re":0.23,"im":0.11},{"re":0.32,"im":0.13},{"re":0.39,"im":0.10},{"re":0.48,"im":0.15},{"re":0.55,"im":0.12},{"re":0.64,"im":0.09},{"re":0.71,"im":0.14},{"re":0.80,"im":0.11},{"re":0.87,"im":0.13},{"re":0.96,"im":0.10},{"re":1.03,"im":0.14},
{"re":-1.00,"im":0.19},{"re":-0.92,"im":0.16},{"re":-0.85,"im":0.20},{"re":-0.76,"im":0.17},{"re":-0.69,"im":0.21},{"re":-0.60,"im":0.18},{"re":-0.53,"im":0.15},{"re":-0.44,"im":0.20},{"re":-0.37,"im":0.17},{"re":-0.28,"im":0.19},{"re":-0.21,"im":0.16},{"re":-0.12,"im":0.21},{"re":-0.05,"im":0.18},{"re":0.04,"im":0.15},{"re":0.11,"im":0.20},{"re":0.20,"im":0.17},{"re":0.27,"im":0.19},{"re":0.36,"im":0.16},{"re":0.43,"im":0.21},{"re":0.52,"im":0.18},{"re":0.59,"im":0.15},{"re":0.68,"im":0.20},{"re":0.75,"im":0.17},{"re":0.84,"im":0.19},{"re":0.91,"im":0.16},{"re":1.00,"im":0.20},
{"re":-0.95,"im":0.25},{"re":-0.88,"im":0.22},{"re":-0.79,"im":0.26},{"re":-0.72,"im":0.23},{"re":-0.63,"im":0.27},{"re":-0.56,"im":0.24},{"re":-0.47,"im":0.21},{"re":-0.40,"im":0.26},{"re":-0.31,"im":0.23},{"re":-0.24,"im":0.25},{"re":-0.15,"im":0.22},{"re":-0.08,"im":0.27},{"re":0.01,"im":0.24},{"re":0.08,"im":0.21},{"re":0.17,"im":0.26},{"re":0.24,"im":0.23},{"re":0.33,"im":0.25},{"re":0.40,"im":0.22},{"re":0.49,"im":0.27},{"re":0.56,"im":0.24},{"re":0.65,"im":0.21},{"re":0.72,"im":0.26},{"re":0.81,"im":0.23},{"re":0.88,"im":0.25},{"re":0.97,"im":0.22},{"re":1.04,"im":0.26},
{"re":-0.99,"im":0.31},{"re":-0.92,"im":0.28},{"re":-0.83,"im":0.32},{"re":-0.76,"im":0.29},{"re":-0.67,"im":0.33},{"re":-0.60,"im":0.30},{"re":-0.51,"im":0.27},{"re":-0.44,"im":0.32},{"re":-0.35,"im":0.29},{"re":-0.28,"im":0.31},{"re":-0.19,"im":0.28},{"re":-0.12,"im":0.33},{"re":-0.03,"im":0.30},{"re":0.04,"im":0.27},{"re":0.13,"im":0.32},{"re":0.20,"im":0.29},{"re":0.29,"im":0.31},{"re":0.36,"im":0.28},{"re":0.45,"im":0.33},{"re":0.52,"im":0.30},{"re":0.61,"im":0.27},{"re":0.68,"im":0.32},{"re":0.77,"im":0.29},{"re":0.84,"im":0.31},{"re":0.93,"im":0.28},{"re":1.00,"im":0.32},
{"re":-0.96,"im":0.37},{"re":-0.87,"im":0.34},{"re":-0.80,"im":0.38},{"re":-0.71,"im":0.35},{"re":-0.64,"im":0.39},{"re":-0.55,"im":0.36},{"re":-0.48,"im":0.33},{"re":-0.39,"im":0.38},{"re":-0.32,"im":0.35},{"re":-0.23,"im":0.37},{"re":-0.16,"im":0.34},{"re":-0.07,"im":0.39},{"re":0.00,"im":0.36},{"re":0.09,"im":0.33},{"re":0.16,"im":0.38},{"re":0.25,"im":0.35},{"re":0.32,"im":0.37},{"re":0.41,"im":0.34},{"re":0.48,"im":0.39},{"re":0.57,"im":0.36},{"re":0.64,"im":0.33},{"re":0.73,"im":0.38},{"re":0.80,"im":0.35},{"re":0.89,"im":0.37},{"re":0.96,"im":0.34},{"re":1.04,"im":0.38},
{"re":-1.01,"im":0.43},{"re":-0.92,"im":0.40},{"re":-0.85,"im":0.44},{"re":-0.76,"im":0.41},{"re":-0.69,"im":0.45},{"re":-0.60,"im":0.42},{"re":-0.53,"im":0.39},{"re":-0.44,"im":0.44},{"re":-0.37,"im":0.41},{"re":-0.28,"im":0.43},{"re":-0.21,"im":0.40},{"re":-0.12,"im":0.45},{"re":-0.05,"im":0.42},{"re":0.04,"im":0.39},{"re":0.11,"im":0.44},{"re":0.20,"im":0.41},{"re":0.27,"im":0.43},{"re":0.36,"im":0.40},{"re":0.43,"im":0.45},{"re":0.52,"im":0.42},{"re":0.59,"im":0.39},{"re":0.68,"im":0.44},{"re":0.75,"im":0.41},{"re":0.84,"im":0.43},{"re":0.91,"im":0.40},{"re":1.00,"im":0.44},
{"re":-0.94,"im":0.49},{"re":-0.86,"im":0.46},{"re":-0.77,"im":0.50},{"re":-0.69,"im":0.47},{"re":-0.61,"im":0.51},{"re":-0.53,"im":0.48},{"re":-0.44,"im":0.45},{"re":-0.36,"im":0.50},{"re":-0.28,"im":0.47},{"re":-0.20,"im":0.49},{"re":-0.11,"im":0.46},{"re":-0.03,"im":0.51},{"re":0.05,"im":0.48},{"re":0.13,"im":0.45},{"re":0.22,"im":0.50},{"re":0.30,"im":0.47},{"re":0.38,"im":0.49},{"re":0.46,"im":0.46},{"re":0.55,"im":0.51},{"re":0.63,"im":0.48},{"re":0.71,"im":0.45},{"re":0.79,"im":0.50},{"re":0.88,"im":0.47},{"re":0.96,"im":0.49},
{"re":-0.90,"im":0.55},{"re":-0.82,"im":0.52},{"re":-0.73,"im":0.56},{"re":-0.65,"im":0.53},{"re":-0.57,"im":0.57},{"re":-0.49,"im":0.54},{"re":-0.40,"im":0.51},{"re":-0.32,"im":0.56},{"re":-0.24,"im":0.53},{"re":-0.16,"im":0.55},{"re":-0.07,"im":0.52},{"re":0.01,"im":0.57},{"re":0.09,"im":0.54},{"re":0.17,"im":0.51},{"re":0.26,"im":0.56},{"re":0.34,"im":0.53},{"re":0.42,"im":0.55},{"re":0.50,"im":0.52},{"re":0.59,"im":0.57},{"re":0.67,"im":0.54},{"re":0.75,"im":0.51},{"re":0.83,"im":0.56},{"re":0.92,"im":0.53},{"re":1.00,"im":0.55},
{"re":-0.87,"im":0.61},{"re":-0.79,"im":0.58},{"re":-0.70,"im":0.62},{"re":-0.62,"im":0.59},{"re":-0.54,"im":0.63},{"re":-0.46,"im":0.60},{"re":-0.37,"im":0.57},{"re":-0.29,"im":0.62},{"re":-0.21,"im":0.59},{"re":-0.13,"im":0.61},{"re":-0.04,"im":0.58},{"re":0.04,"im":0.63},{"re":0.12,"im":0.60},{"re":0.20,"im":0.57},{"re":0.29,"im":0.62},{"re":0.37,"im":0.59},{"re":0.45,"im":0.61},{"re":0.53,"im":0.58},{"re":0.62,"im":0.63},{"re":0.70,"im":0.60},{"re":0.78,"im":0.57},{"re":0.86,"im":0.62},
{"re":-0.74,"im":0.67},{"re":-0.66,"im":0.64},{"re":-0.58,"im":0.68},{"re":-0.49,"im":0.65},{"re":-0.41,"im":0.69},{"re":-0.33,"im":0.66},{"re":-0.24,"im":0.63},{"re":-0.16,"im":0.68},{"re":-0.08,"im":0.65},{"re":0.01,"im":0.67},{"re":0.09,"im":0.64},{"re":0.17,"im":0.69},{"re":0.26,"im":0.66},{"re":0.34,"im":0.63},{"re":0.42,"im":0.68},{"re":0.51,"im":0.65},{"re":0.59,"im":0.67},{"re":0.67,"im":0.64},{"re":0.76,"im":0.69},
{"re":-0.60,"im":0.73},{"re":-0.51,"im":0.70},{"re":-0.43,"im":0.74},{"re":-0.34,"im":0.71},{"re":-0.26,"im":0.75},{"re":-0.17,"im":0.72},{"re":-0.09,"im":0.69},{"re":0.00,"im":0.74},{"re":0.08,"im":0.71},{"re":0.17,"im":0.73},{"re":0.25,"im":0.70},{"re":0.34,"im":0.75},{"re":0.42,"im":0.72},{"re":0.51,"im":0.69},{"re":0.59,"im":0.74},
{"re":-1.06,"im":0.50},{"re":-1.03,"im":0.18},{"re":-1.07,"im":-0.08},{"re":-1.02,"im":-0.30},{"re":-1.05,"im":-0.47},{"re":1.06,"im":0.48},{"re":1.03,"im":0.14},{"re":1.07,"im":-0.06},{"re":1.02,"im":-0.33},{"re":1.05,"im":-0.50},
{"re":-0.98,"im":0.62},{"re":-0.93,"im":0.68},{"re":-0.85,"im":0.72},{"re":-0.80,"im":0.68},{"re":0.82,"im":0.70},{"re":0.88,"im":0.64},{"re":0.95,"im":0.60},{"re":0.91,"im":0.73},
{"re":-0.98,"im":-0.62},{"re":-0.92,"im":-0.68},{"re":-0.84,"im":-0.72},{"re":-0.80,"im":-0.67},{"re":0.82,"im":-0.69},{"re":0.89,"im":-0.64},{"re":0.96,"im":-0.60},{"re":0.90,"im":-0.74},
{"re":-0.65,"im":0.75},{"re":-0.70,"im":0.71},{"re":0.66,"im":0.74},{"re":0.72,"im":0.72},{"re":-0.66,"im":-0.74},{"re":-0.72,"im":-0.70},{"re":0.66,"im":-0.73},{"re":0.71,"im":-0.71},
{"re":-0.55,"im":0.80},{"re":-0.40,"im":0.82},{"re":-0.22,"im":0.80},{"re":-0.05,"im":0.79},{"re":0.12,"im":0.83},{"re":0.27,"im":0.81},{"re":0.50,"im":0.79},{"re":0.62,"im":0.81},
{"re":-0.55,"im":-0.80},{"re":-0.38,"im":-0.83},{"re":-0.20,"im":-0.81},{"re":-0.02,"im":-0.80},{"re":0.14,"im":-0.84},{"re":0.28,"im":-0.79},{"re":0.52,"im":-0.81},{"re":0.61,"im":-0.83},
{"re":-1.15,"im":0.60},{"re":-1.22,"im":0.35},{"re":-1.19,"im":0.12},{"re":-1.24,"im":-0.08},{"re":-1.17,"im":-0.30},{"re":-1.21,"im":-0.48},{"re":1.15,"im":0.62},{"re":1.22,"im":0.33},{"re":1.19,"im":0.15},{"re":1.23,"im":-0.10},{"re":1.17,"im":-0.33},{"re":1.22,"im":-0.46},
{"re":-0.33,"im":0.88},{"re":0.08,"im":0.90},{"re":0.47,"im":0.92},{"re":-0.72,"im":0.90},{"re":0.76,"im":0.88},{"re":-0.30,"im":-0.88},{"re":0.06,"im":-0.90},{"re":0.52,"im":-0.94},{"re":-0.70,"im":-0.90},{"re":0.78,"im":-0.92},
{"re":-1.32,"im":0.55},{"re":-1.37,"im":-0.18},{"re":1.31,"im":0.52},{"re":1.37,"im":-0.20},{"re":-1.30,"im":-0.58},{"re":1.29,"im":-0.62},{"re":-0.95,"im":0.92},{"re":0.98,"im":0.91},{"re":-0.98,"im":-0.90},{"re":1.00,"im":-0.88},
{"re":-1.08,"im":0.62},{"re":-1.12,"im":0.45},{"re":-1.15,"im":0.30},{"re":-1.10,"im":0.12},{"re":-1.18,"im":-0.05},{"re":-1.09,"im":-0.22},{"re":-1.14,"im":-0.38},{"re":-1.07,"im":-0.55},{"re":-1.20,"im":0.52},{"re":-1.25,"im":0.21},{"re":-1.22,"im":-0.15},{"re":-1.28,"im":-0.42},{"re":-1.31,"im":0.38},{"re":-1.36,"im":0.05},{"re":-1.33,"im":-0.28},{"re":-1.40,"im":-0.60},{"re":-1.42,"im":0.62},{"re":-1.45,"im":0.25},{"re":-1.48,"im":-0.12},{"re":-1.52,"im":-0.45},{"re":-1.17,"im":0.78},{"re":-1.24,"im":-0.70},{"re":-1.35,"im":0.70},{"re":-1.12,"im":-0.80},{"re":-1.06,"im":0.85},{"re":-1.28,"im":0.92},{"re":-1.40,"im":-0.85},{"re":-1.55,"im":0.15},{"re":-1.60,"im":-0.30},{"re":-1.13,"im":0.02},{"re":-1.04,"im":-0.66},{"re":-1.05,"im":0.38},{"re":-1.19,"im":-0.58},{"re":-1.27,"im":0.08},{"re":-1.16,"im":0.95},{"re":-1.10,"im":-0.95},
{"re":1.08,"im":0.58},{"re":1.13,"im":0.42},{"re":1.10,"im":0.26},{"re":1.16,"im":0.08},{"re":1.09,"im":-0.10},{"re":1.15,"im":-0.27},{"re":1.07,"im":-0.44},{"re":1.12,"im":-0.60},{"re":1.21,"im":0.50},{"re":1.24,"im":0.18},{"re":1.20,"im":-0.18},{"re":1.27,"im":-0.40},{"re":1.30,"im":0.35},{"re":1.35,"im":0.02},{"re":1.33,"im":-0.30},{"re":1.39,"im":-0.58},{"re":1.43,"im":0.60},{"re":1.46,"im":0.22},{"re":1.49,"im":-0.14},{"re":1.54,"im":-0.48},{"re":1.18,"im":0.80},{"re":1.25,"im":-0.72},{"re":1.36,"im":0.72},{"re":1.14,"im":-0.82},{"re":1.05,"im":0.88},{"re":1.29,"im":0.95},{"re":1.41,"im":-0.88},{"re":1.58,"im":0.12},{"re":1.62,"im":-0.32},{"re":1.12,"im":-0.02},{"re":1.05,"im":-0.70},{"re":1.04,"im":0.30},{"re":1.19,"im":-0.55},{"re":1.26,"im":0.05},{"re":1.17,"im":0.97},{"re":1.09,"im":-0.96},
{"re":-0.92,"im":0.80},{"re":-0.80,"im":0.88},{"re":-0.70,"im":0.78},{"re":-0.62,"im":0.95},{"re":-0.52,"im":0.84},{"re":-0.44,"im":1.02},{"re":-0.36,"im":0.79},{"re":-0.27,"im":0.90},{"re":-0.18,"im":1.08},{"re":-0.10,"im":0.82},{"re":-0.02,"im":0.96},{"re":0.07,"im":0.80},{"re":0.15,"im":1.05},{"re":0.22,"im":0.87},{"re":0.30,"im":0.78},{"re":0.38,"im":0.98},{"re":0.47,"im":0.83},{"re":0.55,"im":1.10},{"re":0.63,"im":0.90},{"re":0.71,"im":0.79},{"re":0.80,"im":0.97},{"re":0.88,"im":0.84},{"re":0.95,"im":1.02},{"re":-0.88,"im":1.00},{"re":-0.75,"im":1.12},{"re":-0.58,"im":1.08},{"re":-0.30,"im":1.15},{"re":0.05,"im":1.18},{"re":0.30,"im":1.12},{"re":0.70,"im":1.05},{"re":0.85,"im":1.15},{"re":-0.97,"im":0.72},{"re":0.93,"im":0.70},{"re":-0.48,"im":0.76},{"re":0.42,"im":0.77},{"re":-0.15,"im":0.78},{"re":0.18,"im":0.77},
{"re":-0.90,"im":-0.80},{"re":-0.82,"im":-0.92},{"re":-0.71,"im":-0.78},{"re":-0.63,"im":-1.00},{"re":-0.54,"im":-0.86},{"re":-0.43,"im":-1.05},{"re":-0.35,"im":-0.80},{"re":-0.26,"im":-0.93},{"re":-0.17,"im":-1.10},{"re":-0.09,"im":-0.83},{"re":0.00,"im":-0.98},{"re":0.09,"im":-0.79},{"re":0.16,"im":-1.04},{"re":0.24,"im":-0.88},{"re":0.32,"im":-0.81},{"re":0.40,"im":-1.00},{"re":0.48,"im":-0.85},{"re":0.57,"im":-1.12},{"re":0.65,"im":-0.90},{"re":0.73,"im":-0.80},{"re":0.81,"im":-0.99},{"re":0.89,"im":-0.85},{"re":0.97,"im":-1.05},{"re":-0.86,"im":-1.03},{"re":-0.74,"im":-1.15},{"re":-0.57,"im":-1.10},{"re":-0.29,"im":-1.18},{"re":0.04,"im":-1.20},{"re":0.31,"im":-1.15},{"re":0.69,"im":-1.08},{"re":0.86,"im":-1.18},{"re":-0.96,"im":-0.74},{"re":0.94,"im":-0.72},{"re":-0.47,"im":-0.77},{"re":0.44,"im":-0.78},{"re":-0.13,"im":-0.79},{"re":0.19,"im":-0.76},
{"re":-0.76,"im":1.86},{"re":-0.32,"im":1.70},{"re":-0.09,"im":1.56},{"re":-0.58,"im":1.47},{"re":-0.44,"im":1.41},{"re":-0.12,"im":1.36},{"re":0.02,"im":1.32},{"re":0.58,"im":1.36},{"re":0.99,"im":1.64},{"re":0.97,"im":1.57},{"re":1.66,"im":1.81},{"re":1.62,"im":1.50},{"re":-1.58,"im":1.19},{"re":-1.27,"im":1.19},{"re":-1.34,"im":1.02},{"re":-1.00,"im":1.22},{"re":-0.82,"im":1.15},{"re":-0.60,"im":1.19},{"re":0.29,"im":1.24},{"re":0.75,"im":1.20},{"re":1.07,"im":1.27},{"re":1.20,"im":1.15},{"re":1.38,"im":1.08},{"re":1.56,"im":1.15},{"re":1.75,"im":0.74},{"re":1.80,"im":0.46},{"re":1.93,"im":0.46},{"re":1.97,"im":0.14},{"re":1.87,"im":-0.20},{"re":1.96,"im":-0.90},{"re":1.83,"im":-0.69},{"re":1.63,"im":-0.26},{"re":1.53,"im":-0.53},{"re":1.27,"im":-1.17},{"re":1.20,"im":-1.33},{"re":0.83,"im":-1.12},{"re":0.91,"im":-1.58},{"re":0.37,"im":-1.63},{"re":0.23,"im":-1.34},{"re":0.05,"im":-1.50},{"re":-0.25,"im":-1.46},{"re":-0.44,"im":-1.44},{"re":-0.55,"im":-1.39},{"re":-0.90,"im":-1.90},{"re":-1.21,"im":-1.44},{"re":-1.27,"im":-1.62},{"re":-1.57,"im":-1.63},{"re":-1.53,"im":-1.15},{"re":-1.70,"im":-0.82},{"re":-1.94,"im":-0.69},{"re":-1.85,"im":-0.55},{"re":-1.95,"im":-0.28},{"re":-1.76,"im":-0.23},{"re":-1.88,"im":0.29},{"re":-1.78,"im":0.12},{"re":-1.65,"im":0.47},{"re":-1.57,"im":0.74},{"re":-1.46,"im":0.80},{"re":-1.62,"im":-0.05},{"re":1.68,"im":0.30},{"re":-0.20,"im":1.25},{"re":0.45,"im":-1.30},{"re":1.45,"im":0.90},{"re":-1.45,"im":-0.95},{"re":0.62,"im":1.22},{"re":-0.70,"im":-1.25},{"re":1.70,"im":-0.05},{"re":-1.72,"im":0.60}
],
"hist": [
{"x0":-1.6,"x1":-1.5,"n":5},{"x0":-1.5,"x1":-1.4,"n":17},{"x0":-1.4,"x1":-1.3,"n":50},{"x0":-1.3,"x1":-1.2,"n":90},{"x0":-1.2,"x1":-1.1,"n":95},{"x0":-1.1,"x1":-1.0,"n":160},{"x0":-1.0,"x1":-0.9,"n":250},{"x0":-0.9,"x1":-0.8,"n":300},{"x0":-0.8,"x1":-0.7,"n":400},{"x0":-0.7,"x1":-0.6,"n":390},{"x0":-0.6,"x1":-0.5,"n":510},{"x0":-0.5,"x1":-0.4,"n":470},{"x0":-0.4,"x1":-0.3,"n":457},{"x0":-0.3,"x1":-0.2,"n":457},{"x0":-0.2,"x1":-0.1,"n":427},{"x0":-0.1,"x1":0.0,"n":433},{"x0":0.0,"x1":0.1,"n":420},{"x0":0.1,"x1":0.2,"n":475},{"x0":0.2,"x1":0.3,"n":485},{"x0":0.3,"x1":0.4,"n":440},{"x0":0.4,"x1":0.5,"n":458},{"x0":0.5,"x1":0.6,"n":440},{"x0":0.6,"x1":0.7,"n":390},{"x0":0.7,"x1":0.8,"n":370},{"x0":0.8,"x1":0.9,"n":300},{"x0":0.9,"x1":1.0,"n":210},{"x0":1.0,"x1":1.1,"n":170},{"x0":1.1,"x1":1.2,"n":175},{"x0":1.2,"x1":1.3,"n":100},{"x0":1.3,"x1":1.4,"n":90},{"x0":1.4,"x1":1.5,"n":52},{"x0":1.5,"x1":1.6,"n":15},{"x0":1.6,"x1":1.7,"n":5}
],
"gauss": [
{"x":-2,"y":0.7,"k":"L"},{"x":-1.95,"y":1.1,"k":"L"},{"x":-1.9,"y":1.6,"k":"L"},{"x":-1.85,"y":2.4,"k":"L"},{"x":-1.8,"y":3.5,"k":"L"},{"x":-1.75,"y":5.0,"k":"L"},{"x":-1.7,"y":7.1,"k":"L"},{"x":-1.65,"y":10.0,"k":"L"},{"x":-1.6,"y":13.8,"k":"L"},{"x":-1.55,"y":18.7,"k":"L"},{"x":-1.5,"y":25.1,"k":"L"},{"x":-1.45,"y":33.2,"k":"L"},{"x":-1.4,"y":43.3,"k":"L"},{"x":-1.35,"y":55.6,"k":"L"},{"x":-1.3,"y":70.4,"k":"L"},{"x":-1.25,"y":87.9,"k":"L"},{"x":-1.2,"y":108.2,"k":"L"},{"x":-1.15,"y":131.2,"k":"L"},{"x":-1.1,"y":156.9,"k":"L"},{"x":-1.05,"y":185.0,"k":"L"},{"x":-1.0,"y":215.0,"k":"L"},{"x":-0.95,"y":246.4,"k":"L"},{"x":-0.9,"y":278.3,"k":"L"},{"x":-0.85,"y":309.8,"k":"L"},{"x":-0.8,"y":340.0,"k":"L"},{"x":-0.75,"y":367.9,"k":"L"},{"x":-0.7,"y":392.4,"k":"L"},{"x":-0.65,"y":412.5,"k":"L"},{"x":-0.6,"y":427.6,"k":"L"},{"x":-0.55,"y":436.9,"k":"L"},{"x":-0.5,"y":440,"k":"L"},{"x":-0.45,"y":436.9,"k":"L"},{"x":-0.4,"y":427.6,"k":"L"},{"x":-0.35,"y":412.5,"k":"L"},{"x":-0.3,"y":392.4,"k":"L"},{"x":-0.25,"y":367.9,"k":"L"},{"x":-0.2,"y":340.0,"k":"L"},{"x":-0.15,"y":309.8,"k":"L"},{"x":-0.1,"y":278.3,"k":"L"},{"x":-0.05,"y":246.4,"k":"L"},{"x":0,"y":215.0,"k":"L"},{"x":0.05,"y":185.0,"k":"L"},{"x":0.1,"y":156.9,"k":"L"},{"x":0.15,"y":131.2,"k":"L"},{"x":0.2,"y":108.2,"k":"L"},{"x":0.25,"y":87.9,"k":"L"},{"x":0.3,"y":70.4,"k":"L"},{"x":0.35,"y":55.6,"k":"L"},{"x":0.4,"y":43.3,"k":"L"},{"x":0.45,"y":33.2,"k":"L"},{"x":0.5,"y":25.1,"k":"L"},{"x":0.55,"y":18.7,"k":"L"},{"x":0.6,"y":13.8,"k":"L"},{"x":0.65,"y":10.0,"k":"L"},{"x":0.7,"y":7.1,"k":"L"},{"x":0.75,"y":5.0,"k":"L"},{"x":0.8,"y":3.5,"k":"L"},{"x":0.85,"y":2.4,"k":"L"},{"x":0.9,"y":1.6,"k":"L"},{"x":0.95,"y":1.1,"k":"L"},{"x":1.0,"y":0.7,"k":"L"},{"x":1.1,"y":0.3,"k":"L"},{"x":1.2,"y":0.1,"k":"L"},{"x":1.5,"y":0,"k":"L"},{"x":2,"y":0,"k":"L"},
{"x":-2,"y":0,"k":"R"},{"x":-1.5,"y":0,"k":"R"},{"x":-1.2,"y":0.1,"k":"R"},{"x":-1.1,"y":0.3,"k":"R"},{"x":-1.0,"y":0.7,"k":"R"},{"x":-0.95,"y":1.1,"k":"R"},{"x":-0.9,"y":1.6,"k":"R"},{"x":-0.85,"y":2.4,"k":"R"},{"x":-0.8,"y":3.5,"k":"R"},{"x":-0.75,"y":5.0,"k":"R"},{"x":-0.7,"y":7.1,"k":"R"},{"x":-0.65,"y":10.0,"k":"R"},{"x":-0.6,"y":13.8,"k":"R"},{"x":-0.55,"y":18.7,"k":"R"},{"x":-0.5,"y":25.1,"k":"R"},{"x":-0.45,"y":33.2,"k":"R"},{"x":-0.4,"y":43.3,"k":"R"},{"x":-0.35,"y":55.6,"k":"R"},{"x":-0.3,"y":70.4,"k":"R"},{"x":-0.25,"y":87.9,"k":"R"},{"x":-0.2,"y":108.2,"k":"R"},{"x":-0.15,"y":131.2,"k":"R"},{"x":-0.1,"y":156.9,"k":"R"},{"x":-0.05,"y":185.0,"k":"R"},{"x":0,"y":215.0,"k":"R"},{"x":0.05,"y":246.4,"k":"R"},{"x":0.1,"y":278.3,"k":"R"},{"x":0.15,"y":309.8,"k":"R"},{"x":0.2,"y":340.0,"k":"R"},{"x":0.25,"y":367.9,"k":"R"},{"x":0.3,"y":392.4,"k":"R"},{"x":0.35,"y":412.5,"k":"R"},{"x":0.4,"y":427.6,"k":"R"},{"x":0.45,"y":436.9,"k":"R"},{"x":0.5,"y":440,"k":"R"},{"x":0.55,"y":436.9,"k":"R"},{"x":0.6,"y":427.6,"k":"R"},{"x":0.65,"y":412.5,"k":"R"},{"x":0.7,"y":392.4,"k":"R"},{"x":0.75,"y":367.9,"k":"R"},{"x":0.8,"y":340.0,"k":"R"},{"x":0.85,"y":309.8,"k":"R"},{"x":0.9,"y":278.3,"k":"R"},{"x":0.95,"y":246.4,"k":"R"},{"x":1.0,"y":215.0,"k":"R"},{"x":1.05,"y":185.0,"k":"R"},{"x":1.1,"y":156.9,"k":"R"},{"x":1.15,"y":131.2,"k":"R"},{"x":1.2,"y":108.2,"k":"R"},{"x":1.25,"y":87.9,"k":"R"},{"x":1.3,"y":70.4,"k":"R"},{"x":1.35,"y":55.6,"k":"R"},{"x":1.4,"y":43.3,"k":"R"},{"x":1.45,"y":33.2,"k":"R"},{"x":1.5,"y":25.1,"k":"R"},{"x":1.55,"y":18.7,"k":"R"},{"x":1.6,"y":13.8,"k":"R"},{"x":1.65,"y":10.0,"k":"R"},{"x":1.7,"y":7.1,"k":"R"},{"x":1.75,"y":5.0,"k":"R"},{"x":1.8,"y":3.5,"k":"R"},{"x":1.85,"y":2.4,"k":"R"},{"x":1.9,"y":1.6,"k":"R"},{"x":1.95,"y":1.1,"k":"R"},{"x":2,"y":0.7,"k":"R"}
]
},
"columns": 2,
"bounds": "flush",
"spacing": {"row": 90, "column": 84},
"concat": [
{
 "width": 247, "height": 248, "title": "Detection",
 "resolve": {"axis": {"x": "independent", "y": "independent"}},
 "layer": [
  {"data": {"name": "det"}, "mark": {"type": "area", "color": "black", "opacity": 1},
   "encoding": {
    "x": {"field": "t", "type": "quantitative", "scale": {"domain": [0, 10], "nice": false, "zero": false}, "axis": {"values": [0, 5, 10], "title": "Time \u00a0(s)"}},
    "y": {"field": "v", "type": "quantitative", "scale": {"domain": [0, 1], "nice": false}, "axis": {"values": [0, 0.2, 0.4, 0.6, 0.8, 1], "title": "Filter output \u00a0(arb. units)", "labelExpr": "datum.value == 0 ? '0' : format(datum.value, '.1f')"}}}},
  {"data": {"values": [{"t": 6.1, "v": 0.95}]}, "mark": {"type": "point", "shape": "circle", "size": 140, "filled": true, "fill": "white", "stroke": "black", "strokeWidth": 1, "opacity": 1},
   "encoding": {
    "x": {"field": "t", "type": "quantitative", "scale": {"domain": [0, 10], "nice": false, "zero": false}, "axis": {"orient": "top", "values": [0, 5, 10], "labels": false, "title": null}},
    "y": {"field": "v", "type": "quantitative", "scale": {"domain": [0, 1], "nice": false}, "axis": {"orient": "right", "values": [0, 0.2, 0.4, 0.6, 0.8, 1], "labels": false, "title": null}}}}
 ]
},
{
 "width": 249, "height": 248, "title": "Spectrum",
 "resolve": {"axis": {"x": "independent", "y": "independent"}},
 "layer": [
  {"data": {"name": "spec"}, "mark": {"type": "line", "color": "black", "strokeWidth": 1.3},
   "encoding": {
    "x": {"field": "f", "type": "quantitative", "scale": {"type": "log", "domain": [1, 7], "nice": false}, "axis": {"values": [1, 2, 3, 4, 5, 6, 7], "grid": true, "title": "Frequency \u00a0(kHz)", "labelExpr": "'' + datum.value"}},
    "y": {"field": "p", "type": "quantitative", "scale": {"type": "log", "domain": [0.001, 100], "nice": false}, "axis": {"values": [0.001, 0.01, 0.1, 1, 10, 100], "grid": true, "title": "Power \u00a0(arb. units)", "labelExpr": "datum.value > 99 ? '10²' : datum.value > 9.9 ? '10¹' : datum.value > 0.99 ? '10⁰' : datum.value > 0.099 ? '10⁻¹' : datum.value > 0.0099 ? '10⁻²' : '10⁻³'"}}}},
  {"data": {"values": [{"f": 2, "p": 1}]}, "mark": {"type": "point", "opacity": 0},
   "encoding": {
    "x": {"field": "f", "type": "quantitative", "scale": {"type": "log", "domain": [1, 7], "nice": false}, "axis": {"orient": "top", "values": [1, 2, 3, 4, 5, 6, 7], "labels": false, "title": null}},
    "y": {"field": "p", "type": "quantitative", "scale": {"type": "log", "domain": [0.001, 100], "nice": false}, "axis": {"orient": "right", "values": [0.001, 0.01, 0.1, 1, 10, 100], "labels": false, "title": null}}}}
 ]
},
{
 "width": 247, "height": 248, "title": "Mean square error",
 "resolve": {"axis": {"x": "independent", "y": "independent"}},
 "layer": [
  {"data": {"name": "mse"}, "mark": {"type": "line", "color": "black", "strokeWidth": 1},
   "encoding": {
    "x": {"field": "s", "type": "quantitative", "scale": {"domain": [1, 8766], "nice": false, "zero": false}, "axis": {"values": [1, 1754, 3507, 5260, 7013, 8766], "grid": true, "title": "Symbol No", "labelExpr": "'' + datum.value"}},
    "y": {"field": "m", "type": "quantitative", "scale": {"domain": [-5, 0], "nice": false}, "axis": {"values": [-5, -4, -3, -2, -1, 0], "grid": true, "title": "MSE \u00a0(dB)"}}}},
  {"data": {"values": [{"s": 100, "m": -1}]}, "mark": {"type": "point", "opacity": 0},
   "encoding": {
    "x": {"field": "s", "type": "quantitative", "scale": {"domain": [1, 8766], "nice": false, "zero": false}, "axis": {"orient": "top", "values": [1, 1754, 3507, 5260, 7013, 8766], "labels": false, "title": null}},
    "y": {"field": "m", "type": "quantitative", "scale": {"domain": [-5, 0], "nice": false}, "axis": {"orient": "right", "values": [-5, -4, -3, -2, -1, 0], "labels": false, "title": null}}}}
 ]
},
{
 "width": 249, "height": 248, "title": "PLL phase estimate",
 "resolve": {"axis": {"x": "independent", "y": "independent"}},
 "layer": [
  {"data": {"name": "pll"}, "mark": {"type": "line", "color": "black", "strokeWidth": 1.4},
   "encoding": {
    "x": {"field": "s", "type": "quantitative", "scale": {"domain": [1, 8766], "nice": false, "zero": false}, "axis": {"values": [1, 1754, 3507, 5260, 7013, 8766], "grid": true, "title": "Symbol No", "labelExpr": "'' + datum.value"}},
    "y": {"field": "ph", "type": "quantitative", "scale": {"domain": [0, 5], "nice": false}, "axis": {"values": [0, 1, 2, 3, 4, 5], "grid": true, "title": "Phase offset \u00a0(rad)"}}}},
  {"data": {"values": [{"s": 100, "ph": 1}]}, "mark": {"type": "point", "opacity": 0},
   "encoding": {
    "x": {"field": "s", "type": "quantitative", "scale": {"domain": [1, 8766], "nice": false, "zero": false}, "axis": {"orient": "top", "values": [1, 1754, 3507, 5260, 7013, 8766], "labels": false, "title": null}},
    "y": {"field": "ph", "type": "quantitative", "scale": {"domain": [0, 5], "nice": false}, "axis": {"orient": "right", "values": [0, 1, 2, 3, 4, 5], "labels": false, "title": null}}}}
 ]
},
{
 "width": 247, "height": 247, "title": "Constellation",
 "resolve": {"axis": {"x": "independent", "y": "independent"}},
 "layer": [
  {"data": {"name": "con"}, "mark": {"type": "point", "shape": "M-1,0L1,0M0,-1L0,1", "size": 44, "filled": false, "color": "black", "strokeWidth": 1.7, "opacity": 1},
   "encoding": {
    "x": {"field": "re", "type": "quantitative", "scale": {"domain": [-2, 2], "nice": false}, "axis": {"values": [-2, -1, 0, 1, 2], "title": "Re(Symbol)"}},
    "y": {"field": "im", "type": "quantitative", "scale": {"domain": [-2, 2], "nice": false}, "axis": {"values": [-2, -1, 0, 1, 2], "title": "Im(Symbol)"}}}},
  {"data": {"values": [{"re": 0, "im": 0}]}, "mark": {"type": "point", "opacity": 0},
   "encoding": {
    "x": {"field": "re", "type": "quantitative", "scale": {"domain": [-2, 2], "nice": false}, "axis": {"orient": "top", "values": [-2, -1, 0, 1, 2], "labels": false, "title": null}},
    "y": {"field": "im", "type": "quantitative", "scale": {"domain": [-2, 2], "nice": false}, "axis": {"orient": "right", "values": [-2, -1, 0, 1, 2], "labels": false, "title": null}}}}
 ]
},
{
 "width": 257, "height": 247, "title": "Bit estimation",
 "resolve": {"axis": {"x": "independent", "y": "independent"}},
 "layer": [
  {"data": {"name": "hist"}, "mark": {"type": "rect", "color": "#cccccc", "stroke": "white", "strokeWidth": 1},
   "encoding": {
    "x": {"field": "x0", "type": "quantitative", "scale": {"domain": [-2, 2], "nice": false}, "axis": {"values": [-2, -1, 0, 1, 2], "title": "Re(Symbol)"}},
    "x2": {"field": "x1"},
    "y": {"field": "n", "type": "quantitative", "scale": {"domain": [0, 600], "nice": false}, "axis": {"values": [0, 100, 200, 300, 400, 500, 600], "title": "Count"}},
    "y2": {"datum": 0}}},
  {"data": {"name": "gauss"}, "mark": {"type": "line", "color": "black", "strokeWidth": 2.6},
   "encoding": {
    "x": {"field": "x", "type": "quantitative", "scale": {"domain": [-2, 2], "nice": false}, "axis": {"orient": "top", "values": [-2, -1, 0, 1, 2], "labels": false, "title": null}},
    "y": {"field": "y", "type": "quantitative", "scale": {"domain": [0, 600], "nice": false}, "axis": {"orient": "right", "values": [0, 100, 200, 300, 400, 500, 600], "labels": false, "title": null}},
    "detail": {"field": "k"}}}
 ]
}
]
}
